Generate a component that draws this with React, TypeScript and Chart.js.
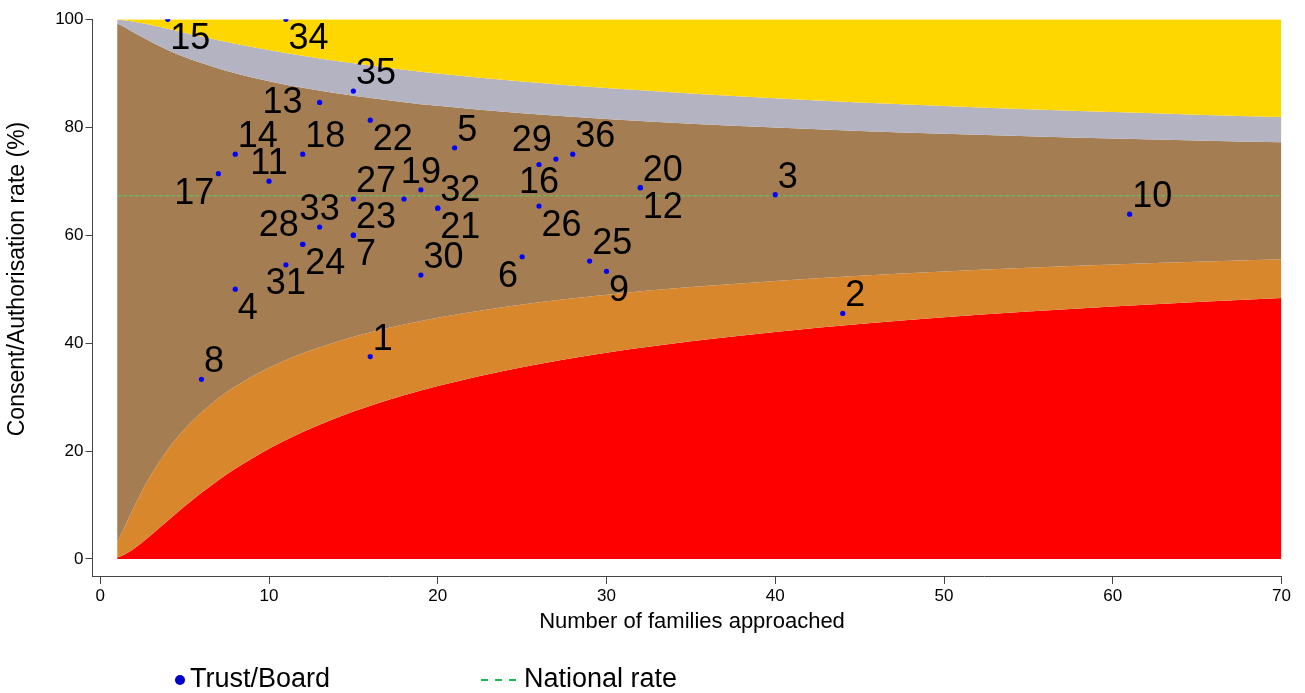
import React, { useEffect, useRef } from 'react';
import { Chart, registerables } from 'chart.js';

Chart.register(...registerables);

// ---- Data ----
const trustLabels = ['15','34','35','13','22','5','16','29','36','20','12','3','10','2','25','9','6','30','14','18','17','11','27','','19','32','21','33','23','7','28','24','31','4','8','1','26'];
const familiesApproached = [4,11,15,13,16,21,26,27,28,32,32,40,61,44,29,30,25,19,8,12,7,10,15,18,19,20,20,13,15,15,12,12,11,8,6,16,26];
const consentRate = [100,100,86.7,84.6,81.3,76.2,73.1,74.1,75.0,68.8,68.8,67.5,63.9,45.5,55.2,53.3,56.0,52.6,75.0,75.0,71.4,70.0,66.7,66.7,68.4,65.0,65.0,61.5,60.0,60.0,58.3,58.3,54.5,50.0,33.3,37.5,65.4];

const nationalRate = 67.3;
const nationalRange = [1, 70];

// funnel limits read along the x axis
const limitN = [1,1.5,2,2.5,3,4,5,6,7,8,10,12,15,18,20,25,30,35,40,45,50,55,60,65,70];
const lower998 = [0.28,0.94,1.92,3.09,4.39,7.10,9.77,12.27,14.59,16.70,20.41,23.51,27.31,30.35,32.06,35.54,38.21,40.34,42.08,43.54,44.78,45.85,46.79,47.62,48.36];
const lower95 = [3.06,6.36,9.69,12.78,15.58,20.31,24.11,27.21,29.79,31.97,35.45,38.12,41.17,43.47,44.71,47.16,48.97,50.39,51.53,52.48,53.27,53.95,54.55,55.07,55.54];
const upper95 = [99.26,98.42,97.53,96.66,95.83,94.33,93.02,91.89,90.89,90.02,88.52,87.30,85.82,84.64,83.97,82.60,81.53,80.66,79.94,79.32,78.79,78.33,77.92,77.56,77.21];
const upper998 = [99.93,99.78,99.54,99.25,98.93,98.23,97.51,96.80,96.13,95.48,94.29,93.24,91.85,90.67,89.98,88.49,87.26,86.24,85.36,84.59,83.93,83.34,82.81,82.33,81.89];

const xTickValues = [0,10,20,30,40,50,60,70];
const yTickValues = [0,20,40,60,80,100];

const xTitle = 'Number of families approached';
const yTitle = 'Consent/Authorisation rate (%)';

// ---- styles (kept separate from the data) ----
const labelClock = [4,4,2,9,4,2,6,10,2,2,4,2,2,2,2,4,8,2,2,2,8,12,2,0,12,2,4,12,2,4,10,4,6,4,2,2,4];
const FONT = "'Liberation Sans', Arial, sans-serif";
const RED = '#ff0000';
const ORANGE = '#d9872d';
const BROWN = '#a57d52';
const GREY = '#b3b3c1';
const YELLOW = '#ffd700';
const GREEN = '#55cf6a';
const BLUE = '#0000ff';
const POINTS_INDEX = 6;

const pts = (ys: number[]) => limitN.map((n, i) => ({ x: n, y: ys[i] }));

const labelPlugin = {
  id: 'trustLabels',
  afterDatasetsDraw(chart: any) {
    const meta = chart.getDatasetMeta(POINTS_INDEX);
    const ctx = chart.ctx;
    ctx.save();
    ctx.font = `36px ${FONT}`;
    ctx.fillStyle = '#000';
    ctx.textBaseline = 'middle';
    meta.data.forEach((el: any, i: number) => {
      const t = trustLabels[i];
      if (!t) return;
      const x = el.x, y = el.y;
      let tx = x, ty = y;
      let align: CanvasTextAlign = 'left';
      switch (labelClock[i]) {
        case 2: tx = x + 2.5; ty = y - 17; break;
        case 4: tx = x + 2.5; ty = y + 20; break;
        case 10: tx = x - 4; ty = y - 18; align = 'right'; break;
        case 8: tx = x - 4; ty = y + 20; align = 'right'; break;
        case 9: tx = x - 17; ty = y + 1; align = 'right'; break;
        case 12: tx = x; ty = y - 17; align = 'center'; break;
        case 6: tx = x; ty = y + 19; align = 'center'; break;
      }
      ctx.textAlign = align;
      ctx.fillText(t, tx, ty);
    });
    ctx.restore();
  },
};

const decorPlugin = {
  id: 'decor',
  afterDraw(chart: any) {
    const ctx = chart.ctx;
    ctx.save();
    // axis titles
    ctx.fillStyle = '#000';
    ctx.textBaseline = 'middle';
    ctx.textAlign = 'center';
    ctx.font = `22px ${FONT}`;
    ctx.fillText(xTitle, 692, 622);
    ctx.save();
    ctx.translate(18, 279);
    ctx.rotate(-Math.PI / 2);
    ctx.font = `23px ${FONT}`;
    ctx.fillText(yTitle, 0, 0);
    ctx.restore();
    // legend
    const cy = 680;
    ctx.fillStyle = '#0000cc';
    ctx.beginPath();
    ctx.arc(180, cy, 5, 0, Math.PI * 2);
    ctx.fill();
    ctx.font = `27px ${FONT}`;
    ctx.fillStyle = '#000';
    ctx.textAlign = 'left';
    ctx.fillText('Trust/Board', 190, cy);
    ctx.strokeStyle = '#22b450';
    ctx.lineWidth = 2;
    ctx.setLineDash([7, 7]);
    ctx.beginPath();
    ctx.moveTo(481, cy);
    ctx.lineTo(517, cy);
    ctx.stroke();
    ctx.setLineDash([]);
    ctx.fillText('National rate', 524, cy);
    ctx.restore();
  },
};

export default function App() {
  const ref = useRef<HTMLCanvasElement>(null);
  useEffect(() => {
    const canvas = ref.current!;
    const common = { borderColor: 'transparent', borderWidth: 1, pointRadius: 0, cubicInterpolationMode: 'monotone' as const };
    const chart = new Chart(canvas, {
      type: 'line',
      data: {
        datasets: [
          { ...common, data: pts(lower998), fill: 'origin', backgroundColor: RED, order: 14 },
          { ...common, data: pts(lower95), fill: '-1', backgroundColor: ORANGE, order: 13 },
          { ...common, data: pts(upper95), fill: '-1', backgroundColor: BROWN, order: 12 },
          { ...common, data: pts(upper998), fill: '-1', backgroundColor: GREY, order: 11 },
          { ...common, data: pts(upper998), fill: { value: 100 }, backgroundColor: YELLOW, order: 10 },
          {
            label: 'National rate',
            data: nationalRange.map((n) => ({ x: n, y: nationalRate })),
            borderColor: GREEN, borderWidth: 1, borderDash: [4, 2], pointRadius: 0, fill: false, order: 1,
          },
          {
            label: 'Trust/Board',
            data: familiesApproached.map((n, i) => ({ x: n, y: consentRate[i] })),
            showLine: false, pointRadius: 2.6, pointBackgroundColor: BLUE, pointBorderWidth: 0,
            borderColor: BLUE, fill: false, order: 0,
          },
        ],
      },
      options: {
        responsive: false,
        animation: false,
        layout: { padding: { left: 0, right: 23.5, top: 19.3, bottom: 0 }, autoPadding: false },
        plugins: { legend: { display: false }, tooltip: { enabled: false } },
        elements: { point: { hoverRadius: 2.6 } },
        scales: {
          x: {
            type: 'linear', min: -0.46, max: 70,
            afterBuildTicks: (s: any) => { s.ticks = xTickValues.map((v) => ({ value: v })); },
            afterFit: (s: any) => { s.height = 117; },
            grid: { display: true, drawOnChartArea: false, drawTicks: true, tickLength: 8, color: '#444' },
            border: { display: true, color: '#444', width: 1 },
            ticks: { font: { family: FONT, size: 17 }, color: '#000', padding: 2, maxRotation: 0, autoSkip: false },
            title: { display: false },
          },
          y: {
            type: 'linear', min: -3.15, max: 100,
            afterBuildTicks: (s: any) => { s.ticks = yTickValues.map((v) => ({ value: v })); },
            afterFit: (s: any) => { s.width = 92.5; },
            grid: { display: true, drawOnChartArea: false, drawTicks: true, tickLength: 7, color: '#444' },
            border: { display: true, color: '#444', width: 1 },
            ticks: { font: { family: FONT, size: 17 }, color: '#000', padding: 2 },
            title: { display: false },
          },
        },
      },
      plugins: [labelPlugin, decorPlugin],
    });
    return () => chart.destroy();
  }, []);
  return (
    <div style={{ position: 'fixed', left: 0, top: 0, width: 1305, height: 693, background: '#fff' }}>
      <canvas ref={ref} width={1305} height={693} style={{ display: 'block' }} />
    </div>
  );
}
